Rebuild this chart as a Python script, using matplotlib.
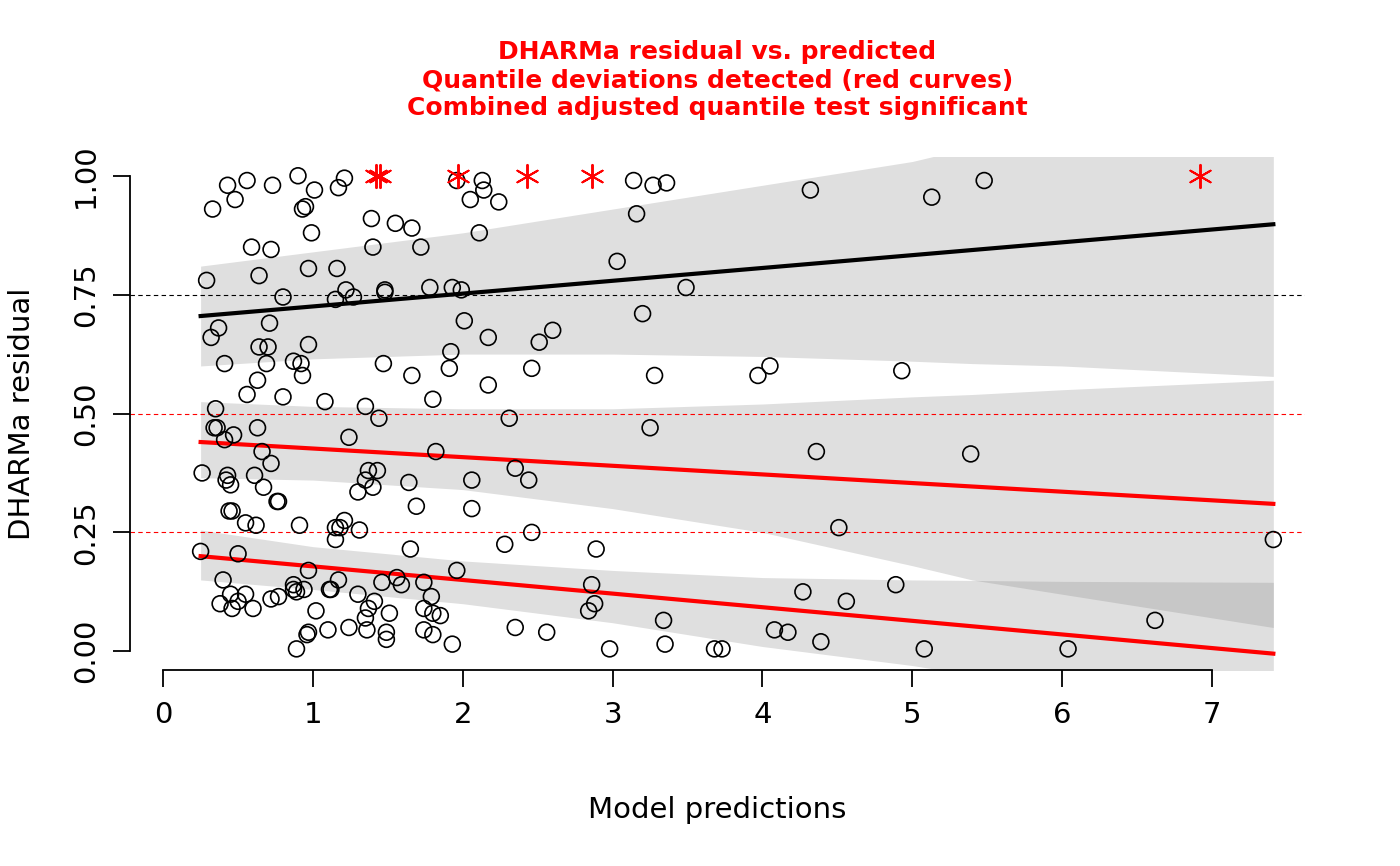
import numpy as np
import matplotlib.pyplot as plt

# simulated residuals (x = model prediction, y = scaled residual)
PRED = [0.33,0.43,0.48,0.56,0.59,0.73,0.72,0.90,0.93,0.95,0.99,1.01,1.17,1.21,1.39,1.40,1.55,1.66,1.72,1.96,2.05,2.11,2.13,2.14,2.24,3.14,3.16,3.27,3.36,4.32,5.13,5.48,
        0.29,0.37,0.32,0.41,0.64,0.64,0.69,0.70,0.71,0.80,0.87,0.92,0.97,0.97,1.16,1.15,1.22,1.27,1.48,1.48,1.78,1.93,1.99,2.01,2.17,2.51,2.60,3.03,3.20,3.49,
        0.56,0.63,0.80,0.93,1.08,1.35,1.44,1.47,1.66,1.80,1.91,1.92,2.17,2.31,2.46,3.25,3.28,3.97,4.05,4.93,0.35,0.34,0.36,0.47,0.41,0.63,
        0.26,0.42,0.43,0.45,0.44,0.46,0.55,0.62,0.61,0.66,0.67,0.72,0.76,0.77,0.91,1.15,1.18,1.15,1.21,1.24,1.30,1.31,1.35,1.37,1.40,1.43,1.64,1.69,1.82,2.06,2.06,2.35,2.44,2.46,4.36,4.51,5.39,
        0.25,0.40,0.38,0.45,0.46,0.50,0.50,0.55,0.60,0.72,0.77,0.87,0.87,0.89,0.89,0.94,0.96,0.97,0.97,1.02,1.10,1.11,1.12,1.17,1.24,1.30,1.35,1.36,1.37,1.41,1.46,1.49,1.49,1.51,1.56,1.59,1.65,1.74,1.74,1.74,1.79,1.80,1.80,1.85,1.93,1.96,2.28,2.35,2.56,2.84,2.86,2.88,2.89,2.98,3.34,3.35,3.68,3.73,4.08,4.17,4.27,4.39,4.56,4.89,5.08,6.04,6.62,7.41]
RESID = [0.93,0.98,0.95,0.99,0.85,0.98,0.845,1.0,0.93,0.935,0.88,0.97,0.975,0.995,0.91,0.85,0.90,0.89,0.85,0.99,0.95,0.88,0.99,0.97,0.945,0.99,0.92,0.98,0.985,0.97,0.955,0.99,
         0.78,0.68,0.66,0.605,0.79,0.64,0.605,0.64,0.69,0.745,0.61,0.605,0.645,0.805,0.805,0.74,0.76,0.745,0.76,0.755,0.765,0.765,0.76,0.695,0.66,0.65,0.675,0.82,0.71,0.765,
         0.54,0.57,0.535,0.58,0.525,0.515,0.49,0.605,0.58,0.53,0.595,0.63,0.56,0.49,0.595,0.47,0.58,0.58,0.60,0.59,0.51,0.47,0.47,0.455,0.445,0.47,
         0.375,0.36,0.37,0.35,0.295,0.295,0.27,0.265,0.37,0.42,0.345,0.395,0.315,0.315,0.265,0.26,0.26,0.235,0.275,0.45,0.335,0.255,0.36,0.38,0.345,0.38,0.355,0.305,0.42,0.36,0.30,0.385,0.36,0.25,0.42,0.26,0.415,
         0.21,0.15,0.10,0.12,0.09,0.105,0.205,0.12,0.09,0.11,0.115,0.14,0.13,0.125,0.005,0.13,0.035,0.04,0.17,0.085,0.045,0.13,0.13,0.15,0.05,0.12,0.07,0.045,0.09,0.105,0.145,0.04,0.025,0.08,0.155,0.14,0.215,0.145,0.09,0.045,0.115,0.08,0.035,0.075,0.015,0.17,0.225,0.05,0.04,0.085,0.14,0.10,0.215,0.005,0.065,0.015,0.005,0.005,0.045,0.04,0.125,0.02,0.105,0.14,0.005,0.005,0.065,0.235]

# outliers drawn as red stars at 1
OUT_X = [1.42, 1.45, 1.97, 2.43, 2.86, 6.92]

# quantile regression lines (ends)
LINE_X = [0.25, 7.41]
Q75 = [0.705, 0.898]
Q50 = [0.44, 0.31]
Q25 = [0.20, -0.005]

# confidence bands
BAND_X = [0.25, 1, 2, 3, 4, 5, 5.4, 6, 7.41]
B75_LO = [0.60, 0.615, 0.625, 0.625, 0.62, 0.61, 0.605, 0.60, 0.578]
B75_HI = [0.81, 0.84, 0.88, 0.93, 0.98, 1.03, 1.06, 1.10, 1.20]
B50_LO = [0.365, 0.36, 0.34, 0.30, 0.25, 0.18, 0.15, 0.12, 0.05]
B50_HI = [0.525, 0.515, 0.51, 0.51, 0.52, 0.535, 0.54, 0.55, 0.57]
B25_LO = [0.15, 0.13, 0.10, 0.06, 0.01, -0.03, -0.05, -0.08, -0.2]
B25_HI = [0.255, 0.22, 0.19, 0.17, 0.155, 0.15, 0.149, 0.147, 0.145]

fig = plt.figure(figsize=(14, 8.66), dpi=100)
ax = fig.add_axes([0.093, 0.226, 0.839, 0.593])

for lo, hi in [(B75_LO, B75_HI), (B50_LO, B50_HI), (B25_LO, B25_HI)]:
    ax.fill_between(BAND_X, lo, hi, color='0.5', alpha=0.25, linewidth=0)

for y, c in [(0.25, 'red'), (0.5, 'red'), (0.75, 'black')]:
    ax.axhline(y, color=c, linestyle='--', linewidth=0.8, dashes=(4, 3))

ax.scatter(PRED, RESID, s=130, facecolors='none', edgecolors='black', linewidths=1.2, zorder=3)
ax.scatter(OUT_X, [1.0] * len(OUT_X), marker=(6, 2, 0), s=280, color='red', linewidths=1.4, zorder=3)

ax.plot(LINE_X, Q75, color='black', linewidth=3)
ax.plot(LINE_X, Q50, color='red', linewidth=3)
ax.plot(LINE_X, Q25, color='red', linewidth=3)

ax.set_xlim(-0.22, 7.62)
ax.set_ylim(-0.04, 1.04)
for s in ['top', 'right']:
    ax.spines[s].set_visible(False)
ax.spines['left'].set_bounds(0, 1)
ax.spines['bottom'].set_bounds(0, 7)
ax.spines['left'].set_linewidth(1.3)
ax.spines['bottom'].set_linewidth(1.3)
ax.set_xticks(range(8))
ax.set_yticks([0, 0.25, 0.5, 0.75, 1.0])
ax.set_yticklabels(['0.00', '0.25', '0.50', '0.75', '1.00'], rotation=90, va='center')
ax.tick_params(labelsize=21, length=12, width=1.3, pad=10)

ax.set_xlabel('Model predictions', fontsize=21, labelpad=48)
ax.set_ylabel('DHARMa residual', fontsize=21, labelpad=26)
ax.set_title('DHARMa residual vs. predicted\nQuantile deviations detected (red curves)\nCombined adjusted quantile test significant',
             color='red', fontweight='bold', fontsize=18, linespacing=1.2, pad=30)

fig.savefig('out.png', dpi=100)
